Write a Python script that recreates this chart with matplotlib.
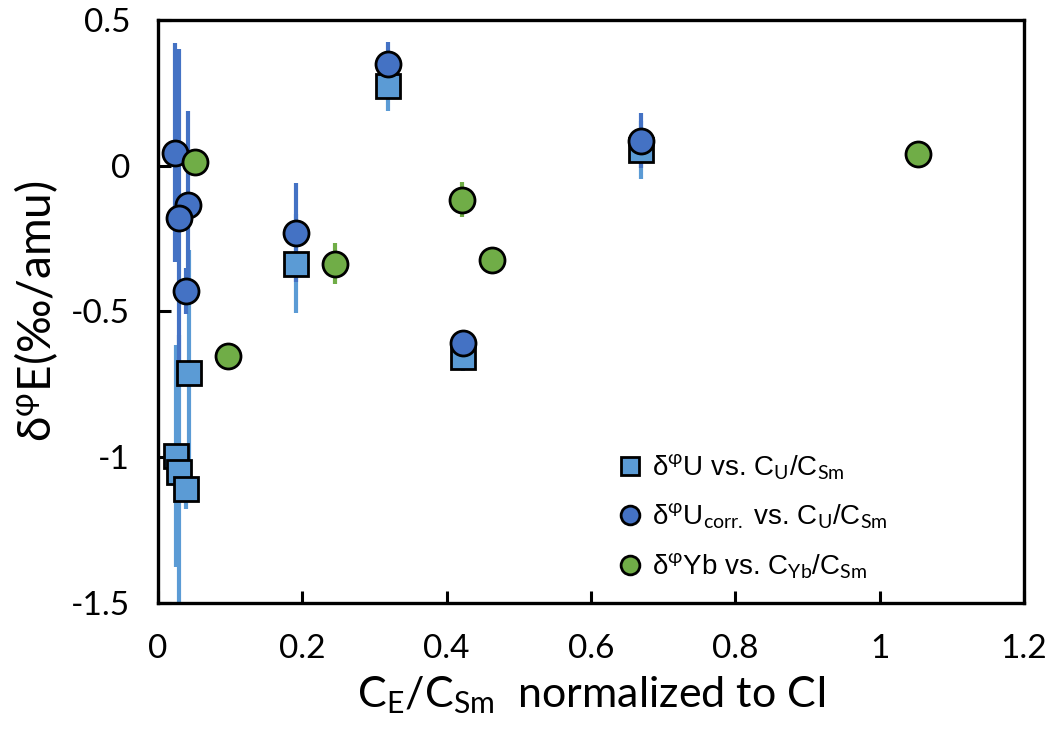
import matplotlib
matplotlib.use("Agg")
import matplotlib.pyplot as plt

# --- data ---
x_u = [0.025, 0.029, 0.039, 0.043, 0.191, 0.319, 0.423, 0.669]
y_u = [-0.995, -1.05, -1.108, -0.71, -0.336, 0.274, -0.655, 0.055]
err_u = [0.38, 0.47, 0.07, 0.42, 0.17, 0.085, 0.05, 0.10]

x_ucorr = [0.0235, 0.0415, 0.029, 0.039, 0.191, 0.319, 0.423, 0.669]
y_ucorr = [0.045, -0.134, -0.18, -0.43, -0.23, 0.35, -0.607, 0.086]
err_ucorr = [0.375, 0.32, 0.58, 0.08, 0.17, 0.075, 0.03, 0.095]

x_yb = [0.051, 0.097, 0.245, 0.421, 0.463, 1.054]
y_yb = [0.014, -0.652, -0.336, -0.117, -0.322, 0.041]
err_yb = [0.0, 0.0, 0.07, 0.06, 0.0, 0.0]

c_u = '#5B9BD5'
c_ucorr = '#4472C4'
c_yb = '#70AD47'

plt.rcParams['mathtext.fontset'] = 'custom'
plt.rcParams['mathtext.rm'] = 'Lato'
plt.rcParams['mathtext.it'] = 'Lato'
plt.rcParams['font.family'] = ['Lato', 'DejaVu Sans']

fig = plt.figure(figsize=(10.49, 7.39), dpi=100)
ax = fig.add_axes([0.1506, 0.184, 0.8254, 0.789])

# error bars first, markers on top
ax.errorbar(x_u, y_u, yerr=err_u, fmt='none', ecolor=c_u, elinewidth=3, capsize=0, zorder=1)
ax.errorbar(x_ucorr, y_ucorr, yerr=err_ucorr, fmt='none', ecolor=c_ucorr, elinewidth=3, capsize=0, zorder=1)
ax.errorbar(x_yb, y_yb, yerr=err_yb, fmt='none', ecolor=c_yb, elinewidth=3, capsize=0, zorder=1)

ax.plot(x_u, y_u, 's', ms=17, mfc=c_u, mec='black', mew=2, zorder=3,
        label='δ$^{φ}$U vs. C$_{U}$/C$_{Sm}$')
ax.plot(x_ucorr, y_ucorr, 'o', ms=18, mfc=c_ucorr, mec='black', mew=2, zorder=4,
        label='δ$^{φ}$U$_{corr.}$ vs. C$_{U}$/C$_{Sm}$')
ax.plot(x_yb, y_yb, 'o', ms=18, mfc=c_yb, mec='black', mew=2, zorder=4,
        label='δ$^{φ}$Yb vs. C$_{Yb}$/C$_{Sm}$')

ax.set_xlim(0, 1.2)
ax.set_ylim(-1.5, 0.5)
ax.set_xticks([0, 0.2, 0.4, 0.6, 0.8, 1.0, 1.2])
ax.set_xticklabels(['0', '0.2', '0.4', '0.6', '0.8', '1', '1.2'])
ax.set_yticks([-1.5, -1, -0.5, 0, 0.5])
ax.set_yticklabels(['-1.5', '-1', '-0.5', '0', '0.5'])
ax.tick_params(direction='in', length=9, width=2.2, labelsize=24)
ax.tick_params(axis='x', pad=22)
ax.tick_params(axis='y', pad=20)
for s in ax.spines.values():
    s.set_linewidth(2.4)

ax.set_xlabel('C$_{E}$/C$_{Sm}$  normalized to CI', fontsize=31, labelpad=8)
ax.set_ylabel('δ$^{φ}$E(‰/amu)', fontsize=33, labelpad=8)

leg = ax.legend(loc='lower right', bbox_to_anchor=(0.872, -0.005), frameon=False,
                prop={'family': ['Liberation Sans', 'DejaVu Sans'], 'size': 20},
                markerscale=0.75, handletextpad=0.2, labelspacing=0.72,
                handlelength=1.2)

fig.savefig('out.png', dpi=100)
